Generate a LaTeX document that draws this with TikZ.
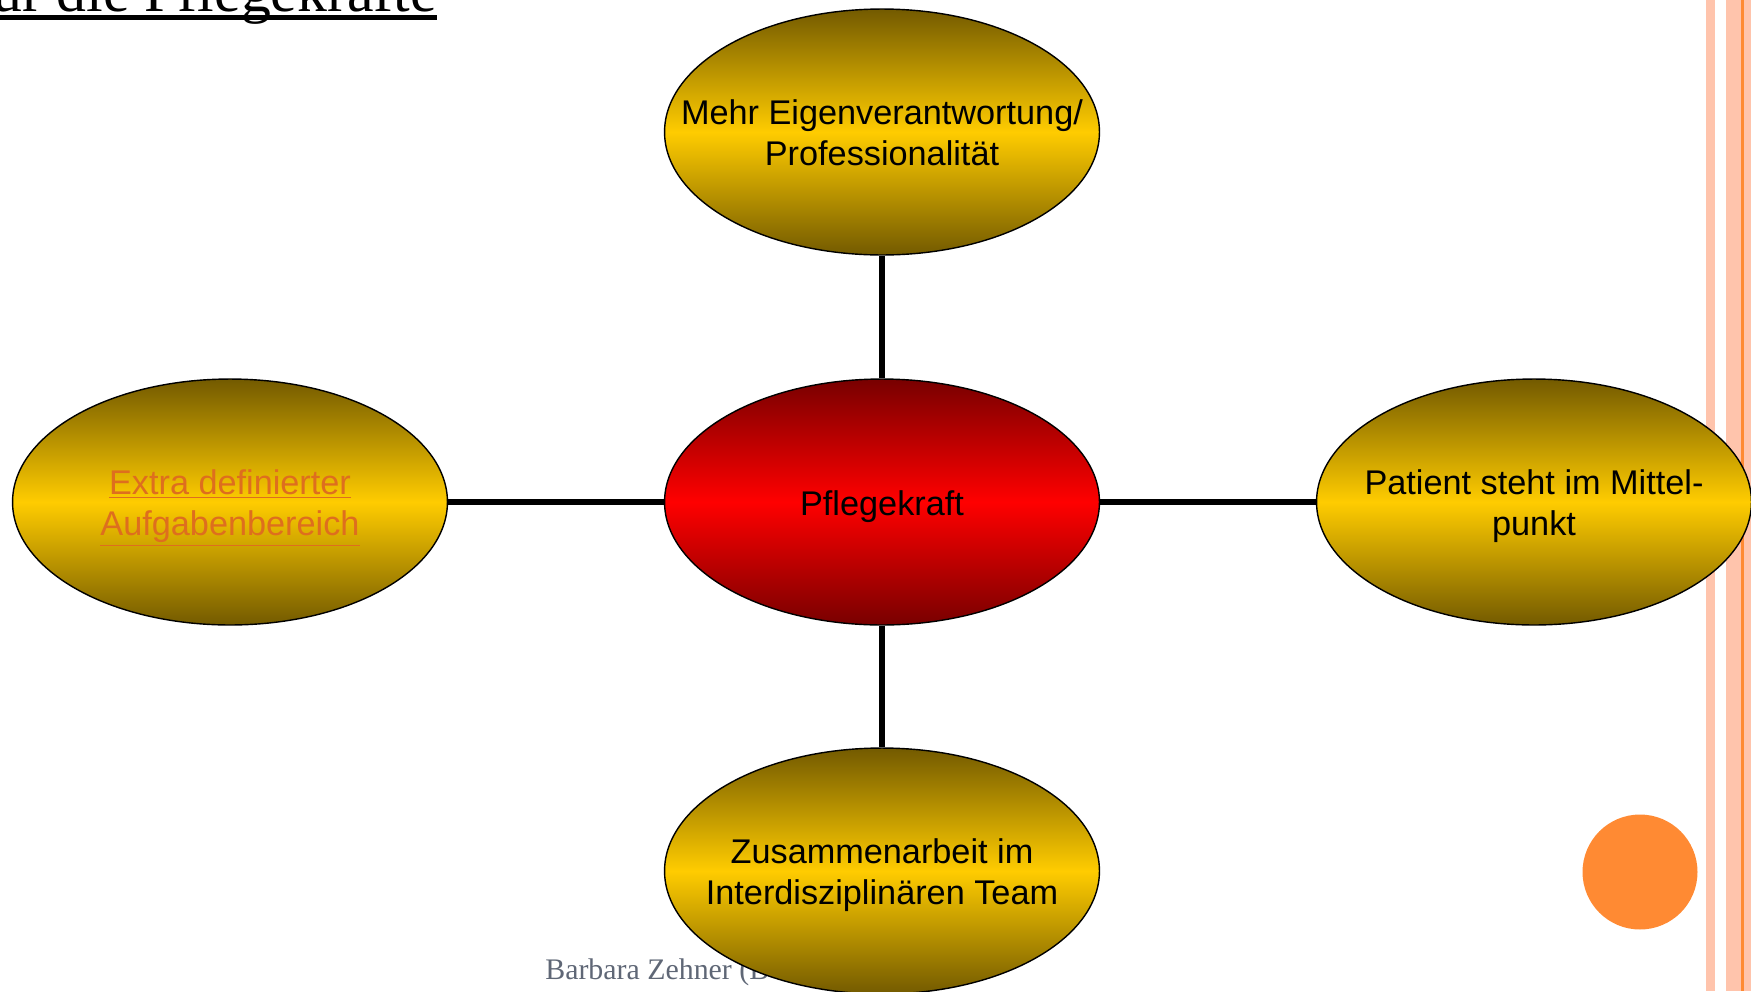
\documentclass[tikz,border=0pt]{standalone}
\usepackage{fontspec}
\setmainfont{Liberation Serif}
\newfontfamily\arialfont{Liberation Sans}
\usetikzlibrary{shapes.geometric}
\definecolor{goldrand}{RGB}{115,90,0}
\definecolor{goldmitte}{RGB}{255,204,0}
\definecolor{rotrand}{RGB}{120,0,0}
\definecolor{rotmitte}{RGB}{255,0,0}
\definecolor{linkfarbe}{RGB}{222,110,30}
\definecolor{streifen}{RGB}{255,196,172}
\definecolor{akzent}{RGB}{255,138,51}
\definecolor{fusszeile}{RGB}{95,103,118}
\newcommand{\blasentext}[1]{\raisebox{-2.8pt}[\height][\depth]{\makebox[0pt]{\begin{tabular}{@{}c@{}}#1\end{tabular}}}}
\begin{document}
\begin{tikzpicture}[x=0.02cm,y=-0.02cm,
  blase/.style={ellipse,draw=black,line width=0.8pt,minimum width=8.7cm,minimum height=4.92cm,inner sep=0pt,font=\arialfont\fontsize{19.5}{23.4}\selectfont},
  gold/.style={blase,top color=goldrand,bottom color=goldrand,middle color=goldmitte},
  rot/.style={blase,top color=rotrand,bottom color=rotrand,middle color=rotmitte},
  verbindung/.style={line width=3.4pt}]
\useasboundingbox (0,0) rectangle (1751,991);
\clip (0,0) rectangle (1751,991);
\fill [streifen] (1706,0) rectangle (1715,991);
\fill [streifen] (1726,0) rectangle (1751,991);
\fill [akzent] (1741,0) rectangle (1744,991);
\fill [akzent] (1640,872) circle (1.15cm);

\node [anchor=base east,inner sep=0pt,font=\fontsize{34}{38}\selectfont] (titel) at (437,11) {für die Pflegekräfte};
\draw [line width=2.7pt] ([yshift=-3.6pt]titel.base west) -- ([yshift=-3.6pt]titel.base east);
\node [anchor=base west,inner sep=0pt,text=fusszeile,font=\fontsize{17}{20}\selectfont] (autor) at (545,979) {Barbara Zehner (B};

\node [rot] (kraft) at (882,502) {\blasentext{Pflegekraft}};
\node [gold] (oben) at (882,132) {\blasentext{Mehr Eigenverantwortung/\\Professionalität}};
\node [gold,text=linkfarbe] (links) at (230,502) {\blasentext{\underline{Extra definierter}\\\underline{Aufgabenbereich}}};
\node [gold] (rechts) at (1534,502) {\blasentext{Patient steht im Mittel-\\punkt}};
\node [gold] (unten) at (882,871) {\blasentext{Zusammenarbeit im\\Interdisziplinären Team}};

\draw [verbindung] (kraft) -- (oben);
\draw [verbindung] (kraft) -- (links);
\draw [verbindung] (kraft) -- (rechts);
\draw [verbindung] (kraft) -- (unten);
\end{tikzpicture}
\end{document}
